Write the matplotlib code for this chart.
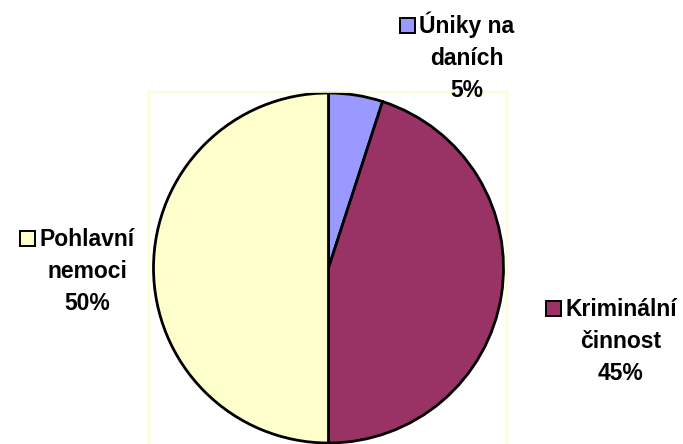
import matplotlib.pyplot as plt
from matplotlib.patches import Rectangle

W, H = 683, 444

labels = ['Úniky na\ndaních', 'Kriminální\nčinnost', 'Pohlavní\nnemoci']
values = [5, 45, 50]
colors = ['#9999FF', '#993366', '#FFFFCC']

# label anchors: centre x, first baseline y (pixels from top)
label_pos = [(467, 33), (621, 316), (87, 246)]

plt.rcParams['font.family'] = ['Liberation Sans', 'DejaVu Sans']

def fx(x):
    return x / W

def fy(y):
    return 1 - y / H

fig = plt.figure(figsize=(W / 100, H / 100), dpi=100)

# plot area frame
fig.patches.append(Rectangle((fx(149), fy(449)), (507 - 149) / W, (449 - 92) / H,
                             transform=fig.transFigure, fill=False,
                             edgecolor='#FFFFC4', linewidth=1.2))

cx, cy, R = 328.5, 268, 175
k = 1.1
ax = fig.add_axes([fx(cx - R * k), fy(cy + R * k), 2 * R * k / W, 2 * R * k / H])
wedges, _ = ax.pie(values, colors=colors, startangle=90, counterclock=False,
                   wedgeprops=dict(edgecolor='black', linewidth=2.0))
for w in wedges:
    w.set_clip_on(False)
ax.set_xlim(-k, k)
ax.set_ylim(-k, k)
ax.set_aspect('equal')
ax.axis('off')

fs = 16.5
lh = 32
r = fig.canvas.get_renderer()
for lab, val, col, (x, y) in zip(labels, values, colors, label_pos):
    lines = lab.split('\n') + ['%d%%' % val]
    texts = []
    for i, line in enumerate(lines):
        texts.append(fig.text(fx(x), fy(y + i * lh), line, ha='center', va='baseline',
                              fontsize=fs, fontweight='bold', color='black'))
    # legend key before first line
    bb = texts[0].get_window_extent(renderer=r)
    s = 15
    kx = bb.x0 - 4 - s
    fig.patches.append(Rectangle((kx / W, fy(y)), s / W, s / H,
                                 transform=fig.transFigure, facecolor=col,
                                 edgecolor='black', linewidth=1.4))

fig.savefig('out.png', dpi=100)
